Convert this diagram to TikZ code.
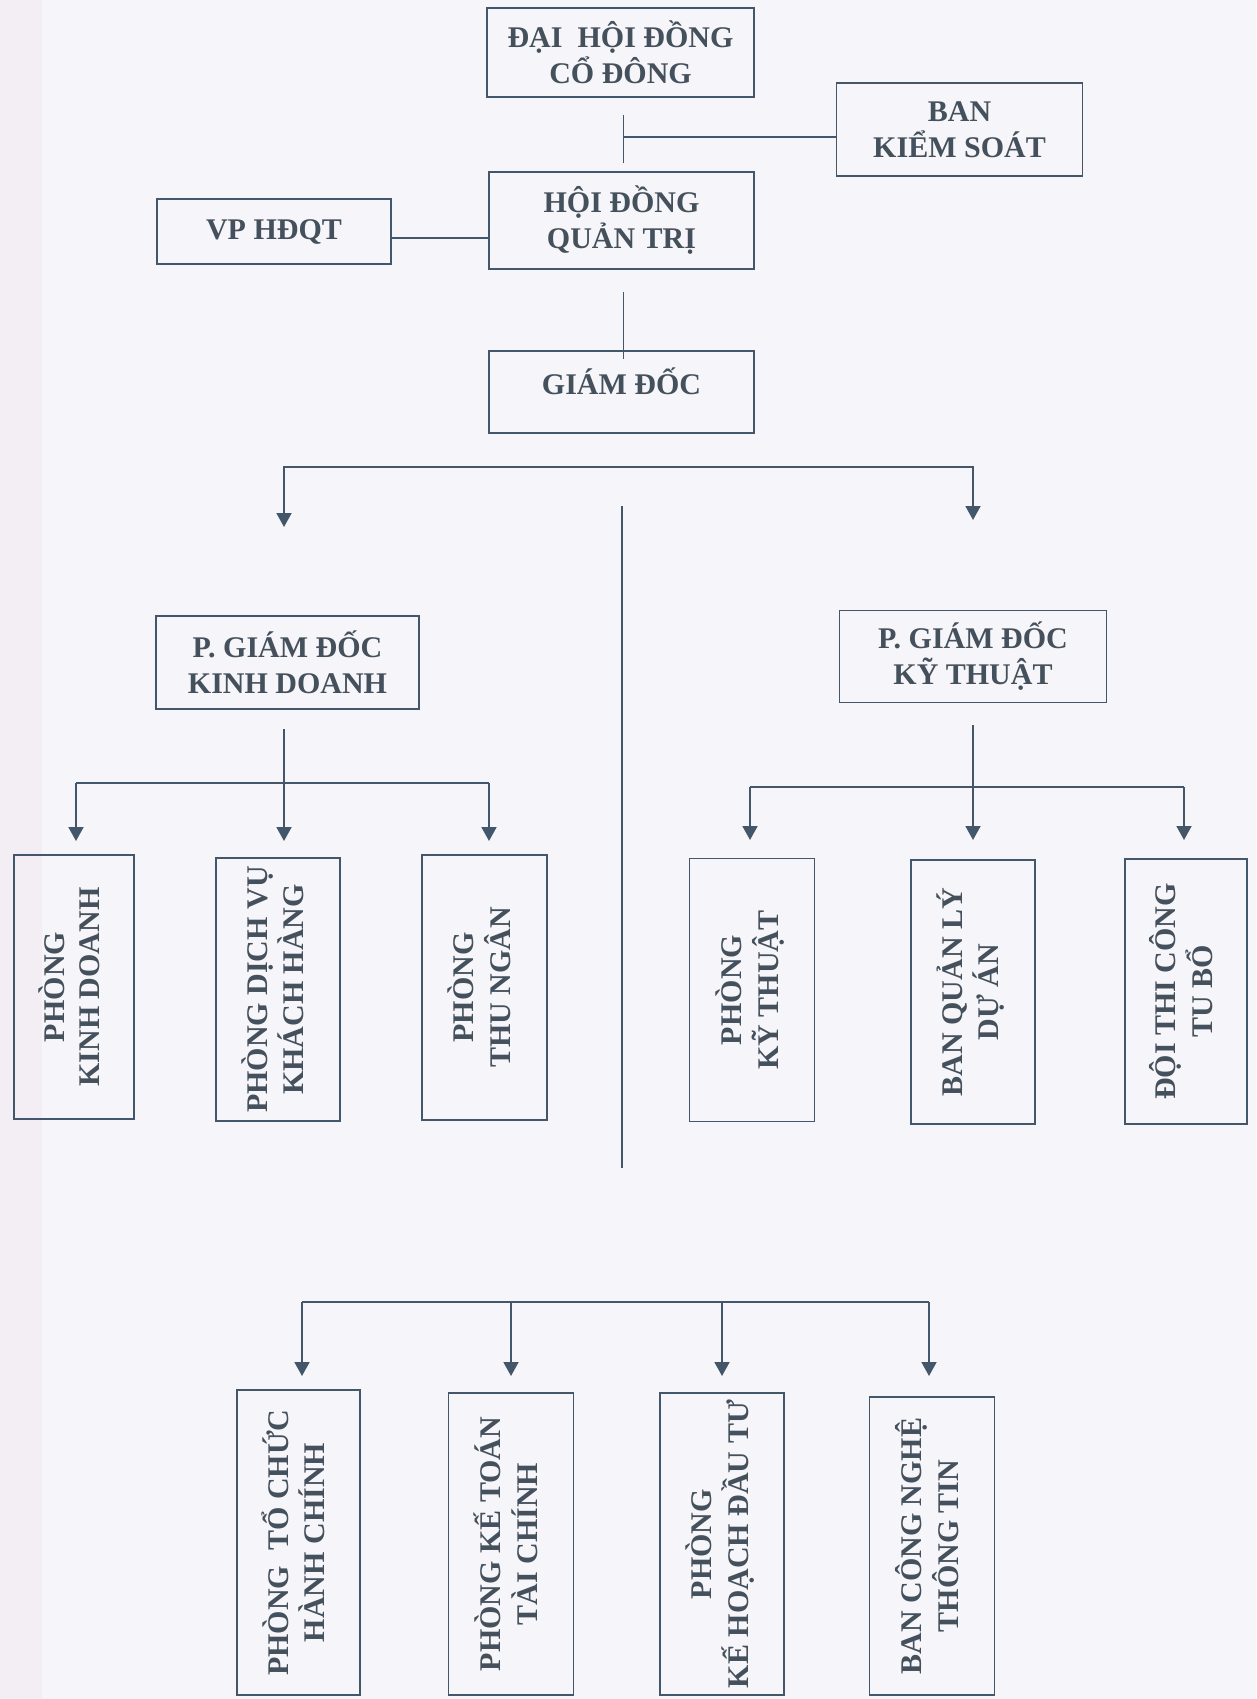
\documentclass[tikz,border=0pt]{standalone}
\usepackage{fontspec}
\setmainfont{Liberation Serif}
\usepackage{graphicx}
\usetikzlibrary{arrows.meta}
\definecolor{lc}{HTML}{44576A}
\definecolor{tc}{HTML}{44505C}
\definecolor{bg}{HTML}{F6F5F9}
\definecolor{bgstrip}{HTML}{F2EEF4}
\newcommand{\vlab}[1]{\rotatebox{90}{\begin{tabular}{@{}c@{}}#1\end{tabular}}}
\tikzset{
  box/.style={draw=lc, line width=1.9pt, text=tc, inner sep=0pt, align=center,
    font=\bfseries\fontsize{30}{36}\selectfont},
  vbox/.style={box, font=\bfseries\fontsize{30}{35}\selectfont},
  ln/.style={draw=lc, line width=1.9pt},
  arr/.style={ln, -{Triangle[width=15pt,length=14pt]}},
  arrtwo/.style={ln, {Triangle[width=15pt,length=14pt]}-{Triangle[width=15pt,length=14pt]}}
}
\begin{document}
\begin{tikzpicture}[x=1pt,y=-1pt]
\useasboundingbox (0,0) rectangle (1256,1699);
\fill[bg] (0,0) rectangle (1256,1699);
\fill[bgstrip] (0,0) rectangle (42,1699);

% ---- top level ----
\node[box, minimum width=267pt, minimum height=89pt] (dhcd) at (620.5,52.5) {ĐẠI\ \ HỘI ĐỒNG\\CỔ ĐÔNG};
\node[box, minimum width=246pt, minimum height=93pt] (bks) at (959.5,129.5) {BAN\\KIỂM SOÁT};
\node[box, minimum width=265pt, minimum height=97pt] (hdqt) at (621.5,220.5) {HỘI ĐỒNG\\QUẢN TRỊ};
\node[box, minimum width=234pt, minimum height=65pt] (vp) at (274,231.5) {VP HĐQT};
\node[box, minimum width=265pt, minimum height=82pt, text height=25pt, text depth=21pt] (gd) at (621.5,392) {GIÁM ĐỐC};

\coordinate (a1) at (623.5,115);
\coordinate (a2) at (623.5,163);
\coordinate (a3) at (623.5,137);
\draw[ln] (a1) -- (a2);
\draw[ln] (a3) -- (bks.west |- a3);
\coordinate (v1) at (0,238);
\draw[ln] (vp.east |- v1) -- (hdqt.west |- v1);
\coordinate (g1) at (623.5,292);
\draw[ln] (g1) -- (g1 |- gd.north) -- ++(0,9);

% ---- second level ----
\coordinate (t1) at (284,527);
\coordinate (m2) at (973,467);
\coordinate (t2) at (973,520);
\draw[arrtwo] (t1) |- (m2) -- (t2);
\coordinate (c1) at (622,506);
\coordinate (c2) at (622,1168);
\draw[ln] (c1) -- (c2);

\node[box, minimum width=263pt, minimum height=93pt] (pgdkd) at (287.5,662.5) {P. GIÁM ĐỐC\\KINH DOANH};
\node[box, minimum width=267pt, minimum height=92pt] (pgdkt) at (973,656.5) {P. GIÁM ĐỐC\\KỸ THUẬT};

% ---- left branch ----
\node[vbox, minimum width=120pt, minimum height=264pt] (pkd) at (74,987) {\vlab{PHÒNG\\KINH DOANH}};
\node[vbox, minimum width=124pt, minimum height=263pt] (pdv) at (278,989.5) {\vlab{PHÒNG DỊCH VỤ\\KHÁCH HÀNG}};
\node[vbox, minimum width=125pt, minimum height=265pt] (ptn) at (484.5,987.5) {\vlab{PHÒNG\\THU NGÂN}};

\coordinate (k0) at (284,729);
\coordinate (kL) at (76,783);
\coordinate (kR) at (489,783);
\coordinate (ky) at (0,841);
\draw[ln] (kL) -- (kR);
\draw[arr] (k0) -- (k0 |- ky);
\draw[arr] (kL) -- (kL |- ky);
\draw[arr] (kR) -- (kR |- ky);

% ---- right branch ----
\node[vbox, minimum width=125pt, minimum height=263pt] (pkt) at (752,990) {\vlab{PHÒNG\\KỸ THUẬT}};
\node[vbox, minimum width=124pt, minimum height=264pt] (bql) at (973,992) {\vlab{BAN QUẢN LÝ\\DỰ ÁN}};
\node[vbox, minimum width=122pt, minimum height=265pt] (dtc) at (1186,991.5) {\vlab{ĐỘI THI CÔNG\\TU BỔ}};

\coordinate (r0) at (973,725);
\coordinate (rL) at (750,787);
\coordinate (rR) at (1184,787);
\coordinate (ry) at (0,840);
\draw[ln] (rL) -- (rR);
\draw[arr] (r0) -- (r0 |- ry);
\draw[arr] (rL) -- (rL |- ry);
\draw[arr] (rR) -- (rR |- ry);

% ---- bottom row ----
\node[vbox, minimum width=123pt, minimum height=305pt] (ptc) at (298.5,1542.5) {\vlab{PHÒNG\ \ TỔ CHỨC\\HÀNH CHÍNH}};
\node[vbox, minimum width=125pt, minimum height=302pt] (pktc) at (511,1544) {\vlab{PHÒNG KẾ TOÁN\\TÀI CHÍNH}};
\node[vbox, minimum width=124pt, minimum height=302pt] (pkh) at (722,1544) {\vlab{PHÒNG\\KẾ HOẠCH ĐẦU TƯ}};
\node[vbox, minimum width=125pt, minimum height=298pt] (bcn) at (932,1546) {\vlab{BAN CÔNG NGHỆ\\THÔNG TIN}};

\coordinate (bL) at (302,1302);
\coordinate (bR) at (929,1302);
\coordinate (by) at (0,1376);
\draw[ln] (bL) -- (bR);
\draw[arr] (bL) -- (bL |- by);
\draw[arr] (pktc.north |- bL) -- (pktc.north |- by);
\draw[arr] (pkh.north |- bL) -- (pkh.north |- by);
\draw[arr] (bR) -- (bR |- by);
\end{tikzpicture}
\end{document}
